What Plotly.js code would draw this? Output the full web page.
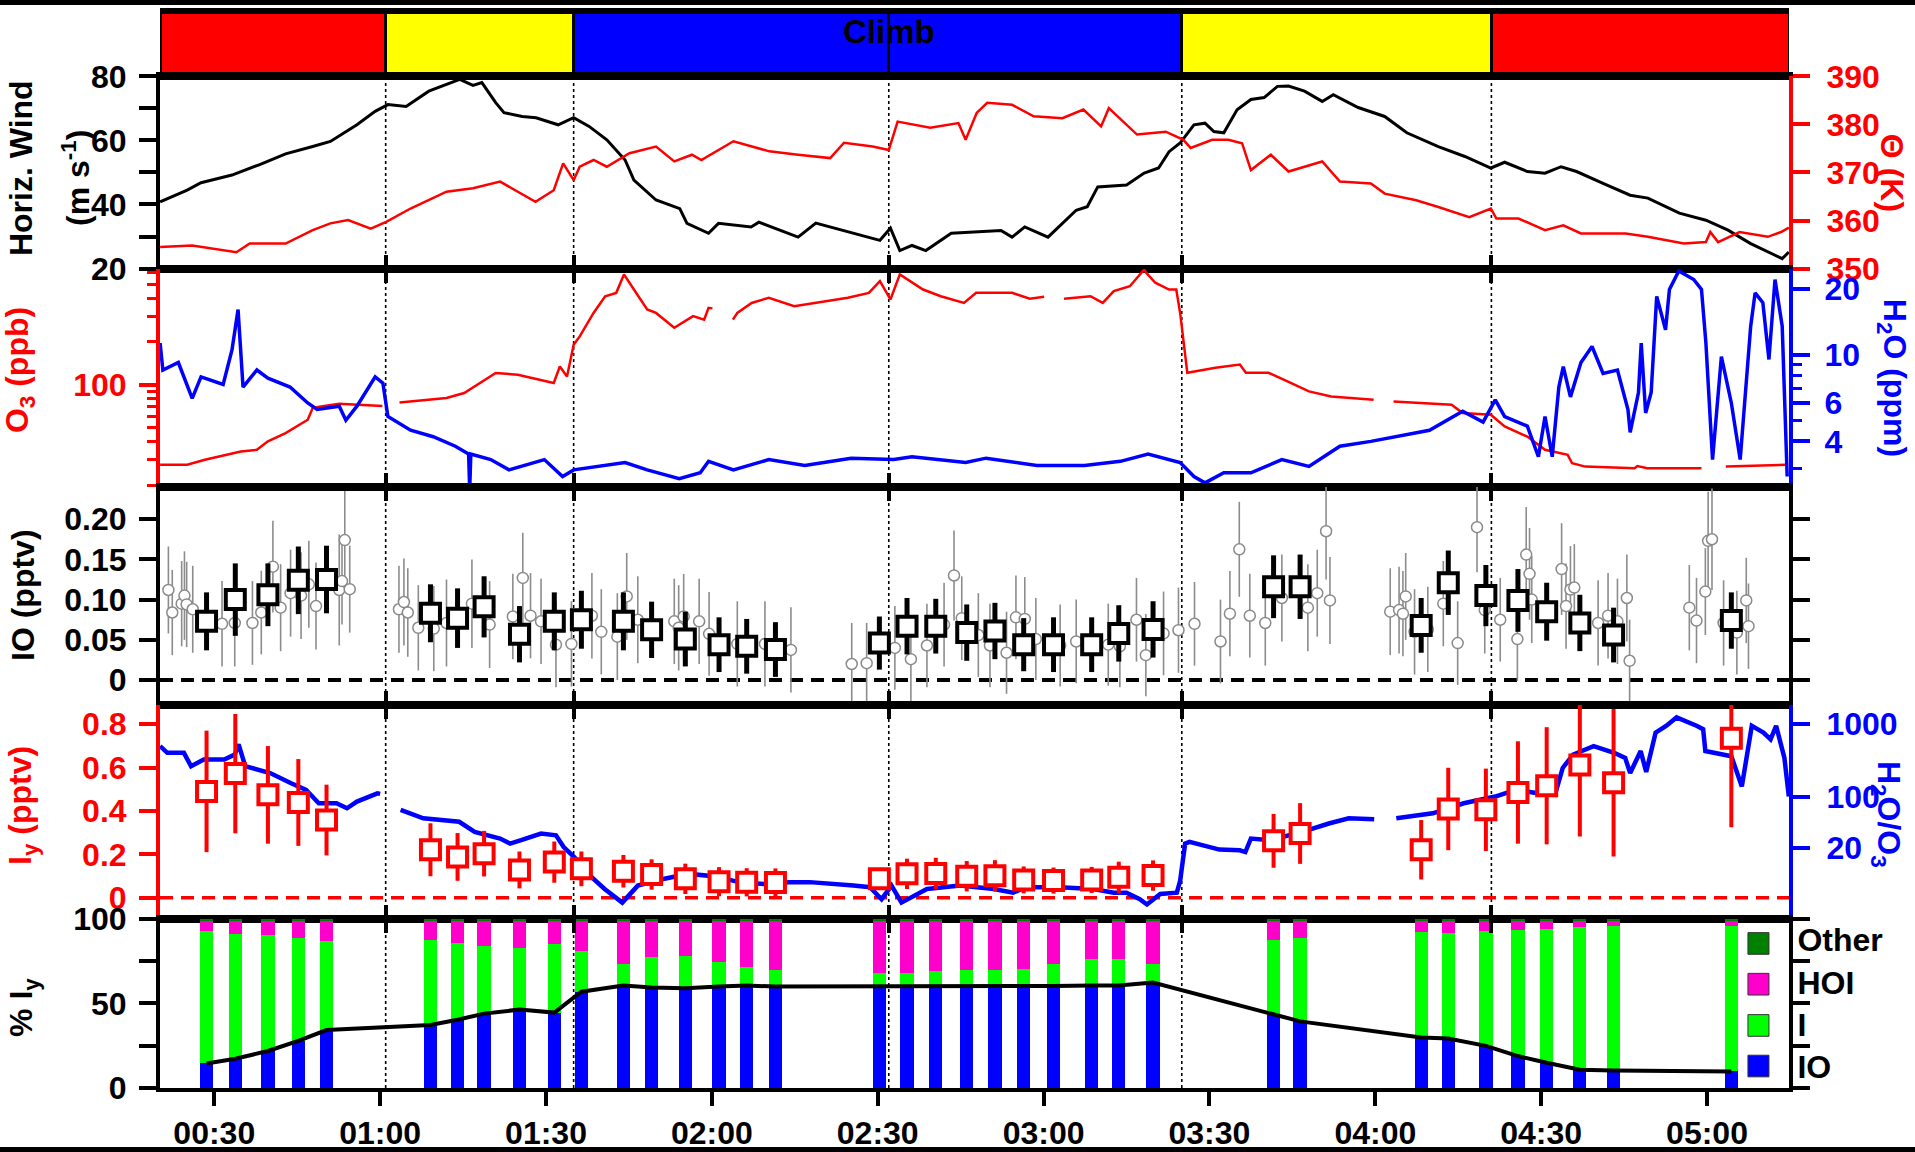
<!DOCTYPE html>
<html>
<head>
<meta charset="utf-8">
<script src="https://cdn.plot.ly/plotly-3.0.1.min.js"></script>
<style>
  html, body { margin: 0; padding: 0; background: #fff; overflow: hidden; }
  #chart { width: 1915px; height: 1152px; }
  .edge { position: absolute; left: 0; width: 1915px; background: #000; }
</style>
</head>
<body>
<div id="chart"></div>
<div class="edge" style="top:0;height:5px"></div>
<div class="edge" style="top:1147px;height:5px"></div>
<script>
// ---- time axis (minutes after 00:00 UTC) ----
const timeRange = [20.18, 314.83];
const timeTickVals = [30, 60, 90, 120, 150, 180, 210, 240, 270, 300];
const timeTickText = ['00:30', '01:00', '01:30', '02:00', '02:30', '03:00', '03:30', '04:00', '04:30', '05:00'];

// ---- flight phases ----
const phaseStart = [20.18, 61.0, 95.0, 152.0, 205.0, 261.0];
const phaseEnd   = [61.0, 95.0, 152.0, 205.0, 261.0, 314.83];
const phaseColor = ['#ff0000', '#ffff00', '#0000ff', '#0000ff', '#ffff00', '#ff0000'];
const phaseLabel = 'Climb';
const phaseLabelTime = 152.0;
const phaseMarks = [61.0, 95.0, 152.0, 205.0, 261.0];

// ---- horizontal wind (m/s) and potential temperature (K) ----
const windT = [20.2,25.1,27.6,33.2,38.1,42.9,47.8,51.0,55.8,59.1,61.4,64.7,68.8,72.0,74.4,76.8,78.4,80.9,82.4,85.7,88.2,92.2,95.0,97.8,101.0,104.3,105.9,109.9,112.4,114.2,115.5,119.4,121.2,127.1,128.5,135.6,138.8,144.6,150.4,152.3,154.0,156.2,158.7,163.3,167.8,172.3,174.3,176.6,180.8,183.4,185.9,187.9,189.8,195.0,198.2,200.8,202.7,204.7,207.2,209.2,210.8,212.6,215.0,217.5,219.9,222.3,224.3,227.2,230.4,232.4,236.9,241.7,245.7,251.4,256.2,260.9,263.4,267.5,270.7,273.6,276.4,281.2,286.1,289.3,295.0,299.8,303.8,307.9,311.2,313.6,314.8];
const windV = [40.8,44.5,46.8,49.2,52.4,55.8,58.1,59.7,64.9,69.1,71.2,70.6,75.4,77.5,79.1,77.2,78.1,71.8,68.7,67.5,67.1,64.9,67.1,64.4,60.2,53.9,47.6,41.4,39.8,38.7,34.1,31.0,34.1,33.0,34.5,29.8,34.2,31.4,28.8,32.6,25.6,27.2,25.6,31.0,31.4,31.9,29.8,33.0,29.8,34.1,38.2,39.3,45.5,46.1,49.8,51.4,56.5,59.2,64.9,65.4,62.8,62.4,69.6,72.8,73.4,76.9,77.0,75.4,72.2,74.3,70.3,67.5,62.4,58.1,55.0,51.4,53.2,50.3,49.8,51.8,50.3,46.6,42.9,42.0,37.3,35.1,32.0,27.8,25.1,23.1,25.1];
const thetaT = [20.2,26.0,34.0,36.4,42.9,47.8,51.0,54.2,58.3,61.1,65.5,72.0,76.8,81.7,88.1,91.4,93.1,95.0,96.1,98.6,101.0,105.1,109.9,113.2,116.4,118.1,123.9,130.4,135.6,141.4,143.9,149.1,152.0,153.6,159.5,164.6,165.9,167.9,169.8,174.3,178.2,183.4,187.2,190.4,191.8,196.9,202.1,205.3,206.6,210.5,213.4,215.9,217.5,221.1,224.3,230.4,233.6,239.2,241.7,247.4,251.4,257.0,260.9,261.9,265.9,270.7,274.0,277.2,285.3,289.3,295.8,299.8,300.6,302.0,305.9,311.0,313.4,314.8];
const thetaV = [354.5,354.8,353.4,355.2,355.2,358.0,359.4,360.1,358.3,359.7,362.5,366.0,366.7,368.1,363.9,366.3,371.9,368.4,371.2,372.6,371.2,374.0,375.4,372.3,373.7,372.6,376.5,374.4,373.7,373.0,376.2,375.4,374.7,380.6,379.3,380.3,376.8,382.4,384.5,384.1,381.7,381.3,383.1,379.6,383.4,377.9,378.5,376.8,375.1,376.8,376.8,376.1,370.5,373.7,370.2,372.3,368.1,367.7,365.6,364.2,362.8,360.7,362.5,360.4,360.4,358.0,359.0,357.3,357.3,356.6,355.2,355.5,357.6,355.5,357.6,356.6,357.6,358.5];

// ---- ozone (ppb) and water vapour (ppm); null marks missing data ----
const o3T = [20.2,25.1,28.3,34.8,37.7,39.7,42.9,46.9,47.8,49.3,52.6,59.9,60.4,62.0,63.5,72.0,75.2,80.9,84.9,91.4,92.5,93.8,95.0,96.1,98.6,100.7,102.7,104.1,105.9,108.3,109.9,113.2,116.6,118.6,119.4,120.1,122.0,123.8,124.6,127.2,130.3,134.9,138.8,144.6,148.4,150.4,152.3,154.0,158.2,161.4,165.6,167.8,174.3,177.5,180.1,182.0,183.7,188.5,190.7,192.7,195.6,198.2,198.6,200.2,202.7,204.0,204.7,206.0,211.1,215.5,216.6,220.7,224.7,228.0,232.0,239.7,241.5,243.3,253.8,255.8,260.9,263.4,267.5,270.7,274.8,275.6,278.0,286.9,287.4,289.2,299.0,301.0,303.4,314.3];
const o3V = [27.7,27.7,30.0,34.3,35.2,40.3,46.0,57.0,68.8,70.6,73.6,71.3,71.0,null,75.3,80.7,87.5,120.7,117.4,102.8,134,114,190,217,316,413,436,586,460,334,316,249,300,284,343,340,null,284,316,371,403,352,371,403,436,526,392,586,460,413,371,436,436,397,409,null,397,413,371,448,485,634,600,513,460,460,316,121,131,138,121,121,103,89.8,82.8,78.5,null,76.4,72.4,63.4,61.8,51.2,43.5,35.2,32.5,28.4,26.9,26.2,27.1,26.2,26.2,null,26.9,27.7];
const h2oT = [20.2,20.7,23.5,26.0,27.6,31.6,33.2,34.3,35.2,37.7,39.7,43.7,46.9,48.6,52.6,53.8,55.8,59.1,60.5,61.4,65.5,69.6,73.6,76.0,76.2,76.4,80.0,83.3,89.7,93.0,95.0,104.3,108.3,114.1,117.9,119.4,123.9,130.3,136.8,145.2,152.9,156.2,165.9,169.6,178.8,187.4,193.9,198.9,204.7,207.2,209.2,212.6,217.5,223.1,228.0,233.6,239.2,243.3,249.8,255.8,259.5,261.7,263.4,267.5,269.5,270.7,272.0,273.2,274.0,275.3,277.2,279.2,281.2,283.8,285.7,286.1,287.6,288.1,288.9,289.9,290.9,292.5,293.2,294.9,297.6,299.0,299.8,301.0,302.6,304.4,306.0,307.9,308.7,310.1,311.2,312.3,313.6,314.5];
const h2oV = [11.3,8.5,9.2,6.3,7.9,7.3,10.5,16.1,7.1,8.5,7.8,7.1,6.0,5.6,5.8,5.0,5.8,7.9,7.4,5.2,4.5,4.2,3.8,3.5,2.4,3.5,3.3,2.96,3.3,2.76,2.96,3.2,2.96,2.7,2.87,3.24,2.96,3.3,3.1,3.35,3.3,3.4,3.2,3.35,3.1,3.1,3.24,3.5,3.2,2.76,2.58,2.87,2.87,3.3,3.07,3.8,4.0,4.2,4.5,5.5,4.9,6.2,5.2,4.7,3.4,5.2,3.4,7.1,8.8,6.4,9.2,10.9,8.2,8.5,5.6,4.4,6.7,11.3,5.4,6.7,18.5,13,19.9,24.2,22.1,19.9,11.3,3.3,9.8,6.0,3.3,13.5,19.2,17.3,9.5,22.1,13.5,2.76];

// ---- IO (pptv): averaged values and individual retrievals ----
const avgT = [28.6,33.8,39.7,45.2,50.3,69.1,74.0,78.8,85.2,91.5,96.4,104.0,109.1,115.2,121.3,126.3,131.5,150.3,155.3,160.5,166.1,171.2,176.4,181.8,188.7,193.6,199.8,221.6,226.4,248.3,253.2,260.0,265.8,271.0,277.0,283.1,304.4];
const ioVal = [0.073,0.100,0.106,0.124,0.125,0.083,0.077,0.091,0.057,0.073,0.075,0.073,0.0625,0.051,0.044,0.042,0.038,0.046,0.067,0.067,0.059,0.061,0.044,0.044,0.044,0.058,0.063,0.116,0.116,0.068,0.121,0.105,0.099,0.085,0.071,0.056,0.074];
const ioErr = [0.036,0.045,0.039,0.042,0.042,0.036,0.037,0.038,0.035,0.036,0.036,0.036,0.035,0.034,0.034,0.034,0.034,0.033,0.035,0.034,0.035,0.035,0.033,0.034,0.034,0.035,0.035,0.039,0.040,0.034,0.040,0.038,0.039,0.036,0.035,0.034,0.035];
const ioSingleT = [21.7,22.4,24.1,24.6,25.0,26.1,31.4,33.7,36.9,38.5,40.6,42.0,43.8,45.7,47.1,48.4,52.6,53.1,53.6,54.5,
  63.4,64.3,65.0,66.9,69.7,72.0,76.6,79.8,84.0,85.8,87.2,89.1,91.8,94.6,98.3,100.0,102.9,104.6,106.6,113.2,114.0,114.9,117.7,119.5,124.6,129.6,134.3,
  145.3,148.0,153.1,156.0,158.9,162.0,163.8,165.2,168.2,170.3,173.3,175.0,176.6,178.6,183.0,185.9,191.7,193.8,196.8,198.5,201.7,204.4,
  207.3,212.0,213.7,215.4,217.3,220.1,223.1,227.8,229.5,231.1,231.8,
  242.7,244.3,245.0,245.5,247.1,249.5,252.3,254.9,258.4,259.8,262.6,265.7,267.3,267.9,268.3,273.7,274.5,275.3,276.0,280.3,282.1,283.8,285.5,286.0,
  296.8,298.1,299.7,300.2,300.9,303.0,305.4,307.1,307.5];
const ioSingleV = [0.112,0.084,0.095,0.105,0.094,0.088,0.070,0.071,0.071,0.084,0.141,0.090,0.108,0.105,0.119,0.092,0.112,0.123,0.174,0.113,
  0.088,0.097,0.084,0.065,0.064,0.071,0.095,0.069,0.079,0.127,0.080,0.073,0.044,0.045,0.080,0.060,0.054,0.104,0.075,0.073,0.065,0.079,0.073,0.0575,0.045,0.045,0.0375,
  0.020,0.021,0.040,0.026,0.043,0.069,0.130,0.077,0.056,0.043,0.034,0.078,0.076,0.051,0.043,0.048,0.044,0.042,0.075,0.031,0.058,0.062,
  0.070,0.048,0.0825,0.1625,0.080,0.071,0.102,0.090,0.108,0.185,0.099,
  0.085,0.087,0.0825,0.104,0.060,0.063,0.095,0.046,0.190,0.087,0.075,0.051,0.156,0.132,0.100,0.138,0.092,0.1125,0.115,0.071,0.080,0.073,0.102,0.024,
  0.090,0.074,0.110,0.173,0.175,0.071,0.059,0.099,0.067];
const ioSingleErr = [0.054,0.053,0.053,0.055,0.053,0.054,0.053,0.054,0.052,0.052,0.057,0.054,0.054,0.054,0.054,0.054,0.069,0.054,0.061,0.054,
  0.054,0.054,0.055,0.053,0.053,0.054,0.055,0.054,0.053,0.056,0.053,0.053,0.053,0.053,0.053,0.053,0.054,0.054,0.054,0.053,0.053,0.053,0.053,0.052,0.053,0.053,0.053,
  0.051,0.050,0.052,0.052,0.052,0.052,0.056,0.052,0.052,0.052,0.051,0.052,0.052,0.051,0.051,0.052,0.051,0.051,0.052,0.051,0.052,0.053,
  0.052,0.052,0.053,0.059,0.052,0.053,0.054,0.054,0.054,0.060,0.054,
  0.054,0.054,0.053,0.054,0.053,0.053,0.053,0.052,0.056,0.054,0.052,0.052,0.059,0.057,0.054,0.057,0.053,0.054,0.054,0.053,0.053,0.053,0.054,0.051,
  0.053,0.053,0.054,0.061,0.063,0.053,0.052,0.053,0.053];

// ---- total inorganic iodine Iy (pptv) and H2O/O3 ratio ----
const iyVal = [0.490,0.572,0.474,0.439,0.358,0.221,0.188,0.203,0.128,0.164,0.133,0.122,0.107,0.087,0.074,0.071,0.070,0.087,0.110,0.112,0.099,0.101,0.082,0.079,0.082,0.094,0.102,0.262,0.296,0.221,0.409,0.405,0.485,0.516,0.612,0.530,0.735];
const iyErr = [0.28,0.275,0.225,0.20,0.163,0.122,0.11,0.105,0.085,0.095,0.08,0.075,0.07,0.07,0.067,0.065,0.065,0.05,0.07,0.072,0.07,0.072,0.062,0.06,0.06,0.072,0.07,0.124,0.14,0.137,0.19,0.19,0.236,0.27,0.33,0.34,0.41];
const ratioT = [20.2,21.5,24.5,25.8,28.1,31.8,33.7,34.4,35.6,40.1,43.8,46.6,48.9,52.1,54.0,55.8,59.5,60.0,62.0,63.7,67.8,74.3,77.1,81.7,83.5,85.5,89.1,91.8,93.2,95.1,98.3,100.6,103.8,106.6,111.2,115.8,120.4,124.9,129.4,134.0,137.7,145.6,148.6,150.7,152.5,154.3,158.9,164.9,171.0,174.5,176.8,182.9,189.0,192.7,195.0,197.4,198.7,201.1,204.1,204.7,205.6,206.4,210.1,211.8,215.5,216.5,217.5,221.1,227.8,231.6,235.2,239.8,241.8,243.8,250.4,256.0,261.7,265.4,269.1,272.5,273.9,275.8,279.5,283.2,285.2,286.1,288.0,289.0,290.7,292.6,294.5,298.2,299.3,299.7,304.4,306.3,308.1,310.2,311.5,312.5,314.0,314.8];
const ratioV = [500,404,404,264,327,327,383,527,264,213,155,125,81.7,81.7,69.7,86,112,110,null,66,50.6,45.4,33,26.7,22.7,25.3,31.3,29.5,20.4,14.8,7.8,5.4,3.5,6.0,7.4,8.7,8.1,6.7,6.3,6.7,6.7,6.0,5.7,3.9,6.0,3.5,5.4,6.0,5.4,4.8,5.7,5.7,5.4,4.8,4.8,3.9,3.3,4.6,4.8,7.0,22.7,24,20.4,18.8,18.4,17.4,26.7,25.3,34.8,43,50.6,49,null,50.6,59.3,81.7,101,125,113,107,250,383,500,404,344,213,427,220,766,948,1240,948,853,427,363,139,948,766,619,948,344,101];

// ---- iodine partitioning (% of Iy) ----
const pctIO = [14.5,17.3,21.9,27.9,34.3,37.3,40.4,44.0,46.4,44.6,57.0,60.6,59.4,59.0,60.0,60.6,60.0,60.0,60.0,60.0,60.0,60.0,60.0,60.4,60.6,60.6,62.4,44.0,39.4,29.9,29.3,24.9,18.9,14.9,10.8,10.4,9.8];
const pctI = [78.1,73.9,68.7,61.1,52.7,50.5,45.3,40.1,36.7,40.3,24.1,12.9,18.1,18.9,14.7,11.1,10.1,7.9,7.9,9.5,10.1,10.1,10.5,13.1,15.9,15.5,11.1,43.8,49.2,62.3,62.5,67.7,74.3,79.3,84.4,85.4,85.8];
const pctHOI = [6.2,7.6,8.2,9.8,11.8,11.0,13.1,14.7,15.7,13.9,17.7,25.3,21.3,20.9,24.1,27.1,28.7,30.9,30.9,29.3,28.7,28.7,28.3,25.3,22.3,22.7,25.3,11.0,10.2,6.6,7.0,6.2,5.6,4.6,3.6,3.0,3.2];
const pctOther = [1.2,1.2,1.2,1.2,1.2,1.2,1.2,1.2,1.2,1.2,1.2,1.2,1.2,1.2,1.2,1.2,1.2,1.2,1.2,1.2,1.2,1.2,1.2,1.2,1.2,1.2,1.2,1.2,1.2,1.2,1.2,1.2,1.2,1.2,1.2,1.2,1.2];
const speciesNames = ['IO', 'I', 'HOI', 'Other'];
const speciesColors = ['#0000ff', '#00ff00', '#ff00cc', '#008000'];

// ---- styling ----
const FONT = 'Liberation Sans, Arial, Helvetica, sans-serif';
const RED = '#ff0000', BLUE = '#0000ff', BLACK = '#000000';
const LW = 4;             // frame / axis line width
const TICKLEN = 17;
const dom = {
  band: [0.9401, 1], p1: [0.7616, 0.9401], p2: [0.5586, 0.7616],
  p3: [0.3559, 0.5586], p4: [0.1571, 0.3559], p5: [0, 0.1571]
};

function timeAxis(anchor, extra) {
  return Object.assign({
    anchor: anchor, range: timeRange, domain: [0, 1],
    showline: true, linecolor: BLACK, linewidth: LW, mirror: 'ticks',
    ticks: 'inside', tickmode: 'array', tickvals: phaseMarks, ticklen: 14, tickwidth: LW, tickcolor: BLACK,
    showticklabels: false, showgrid: false, zeroline: false, fixedrange: true
  }, extra || {});
}
function valueAxis(extra) {
  return Object.assign({
    showline: true, linewidth: LW, linecolor: BLACK, ticks: 'outside', ticklen: TICKLEN, tickwidth: LW,
    tickcolor: BLACK, tickmode: 'array', showgrid: false, zeroline: false, fixedrange: true,
    ticklabelstandoff: 6, tickfont: {family: FONT, size: 32, color: BLACK, weight: 'bold'}
  }, extra || {});
}
function colorFont(c) { return {family: FONT, size: 32, color: c, weight: 'bold'}; }

const traces = [];

// flight phase band
traces.push({
  type: 'bar', orientation: 'h', xaxis: 'x', yaxis: 'y',
  y: phaseStart.map(() => 0), base: phaseStart,
  x: phaseStart.map((s, i) => phaseEnd[i] - s),
  width: 1, marker: {color: phaseColor, line: {color: BLACK, width: 3}}
});

// panel 1
traces.push({type: 'scatter', mode: 'lines', xaxis: 'x2', yaxis: 'y2', x: windT, y: windV, line: {color: BLACK, width: 3}});
traces.push({type: 'scatter', mode: 'lines', xaxis: 'x2', yaxis: 'y3', x: thetaT, y: thetaV, line: {color: RED, width: 2.5}});

// panel 2
traces.push({type: 'scatter', mode: 'lines', xaxis: 'x3', yaxis: 'y4', x: o3T, y: o3V, connectgaps: false, line: {color: RED, width: 2.5}});
traces.push({type: 'scatter', mode: 'lines', xaxis: 'x3', yaxis: 'y5', x: h2oT, y: h2oV, line: {color: BLUE, width: 3.5}});

// panel 3
traces.push({
  type: 'scatter', mode: 'markers', xaxis: 'x4', yaxis: 'y6', x: ioSingleT, y: ioSingleV,
  marker: {symbol: 'circle', size: 11, color: '#ffffff', line: {color: '#8a8a8a', width: 1.5}},
  error_y: {type: 'data', array: ioSingleErr, visible: true, color: '#8c8c8c', thickness: 1.6, width: 0}
});
traces.push({
  type: 'scatter', mode: 'markers', xaxis: 'x4', yaxis: 'y6', x: avgT, y: ioVal,
  marker: {symbol: 'square', size: 19, color: '#ffffff', line: {color: BLACK, width: 4}},
  error_y: {type: 'data', array: ioErr, visible: true, color: BLACK, thickness: 5, width: 0}
});

// panel 4
traces.push({type: 'scatter', mode: 'lines', xaxis: 'x5', yaxis: 'y7', x: ratioT, y: ratioV, connectgaps: false, line: {color: BLUE, width: 4.5}});
traces.push({
  type: 'scatter', mode: 'markers', xaxis: 'x5', yaxis: 'y8', x: avgT, y: iyVal,
  marker: {symbol: 'square', size: 19, color: '#ffffff', line: {color: RED, width: 4}},
  error_y: {type: 'data', array: iyErr, visible: true, color: RED, thickness: 4, width: 0}
});

// panel 5
[pctIO, pctI, pctHOI, pctOther].forEach((vals, i) => {
  traces.push({
    type: 'bar', xaxis: 'x6', yaxis: 'y9', x: avgT, y: vals, width: 2.4,
    name: speciesNames[i], marker: {color: speciesColors[i], line: {width: 0}}
  });
});
traces.push({type: 'scatter', mode: 'lines', xaxis: 'x6', yaxis: 'y9', x: avgT, y: pctIO, line: {color: BLACK, width: 4}});
// empty traces so the overlay axes of panel 5 are laid out
traces.push({type: 'scatter', mode: 'markers', xaxis: 'x7', yaxis: 'y9', x: [], y: []});
traces.push({type: 'scatter', mode: 'markers', xaxis: 'x6', yaxis: 'y10', x: [], y: []});

// dotted phase markers through all panels
const shapes = phaseMarks.map(t => ({
  type: 'line', xref: 'x2', yref: 'paper', x0: t, x1: t, y0: 0, y1: dom.band[0],
  line: {color: BLACK, width: 1.6, dash: 'dot'}, layer: 'below'
}));
// zero reference lines
shapes.push({type: 'line', xref: 'x4 domain', yref: 'y6', x0: 0, x1: 1, y0: 0, y1: 0, line: {color: BLACK, width: 4, dash: '13px,8px'}, layer: 'below'});
shapes.push({type: 'line', xref: 'x5 domain', yref: 'y8', x0: 0, x1: 1, y0: 0, y1: 0, line: {color: RED, width: 3.5, dash: '13px,8px'}, layer: 'below'});
// legend swatches for the partitioning bars
const swatchCenter = [13, 37, 61.4, 85.5];
swatchCenter.forEach((c, i) => {
  shapes.push({type: 'rect', xref: 'paper', yref: 'y9', x0: 0.9748, x1: 0.9877, y0: c - 6.4, y1: c + 6.4,
    fillcolor: speciesColors[i], line: {color: '#333', width: 1}});
});

function title(text, x, y, angle, color) {
  return {text: text, xref: 'paper', yref: 'paper', x: x, y: y, textangle: angle,
    xanchor: 'center', yanchor: 'middle', showarrow: false,
    font: {family: FONT, size: 32, color: color, weight: 'bold'}};
}
const annotations = [
  {text: phaseLabel, xref: 'x', yref: 'y', x: phaseLabelTime, y: 0.19, showarrow: false,
   xanchor: 'center', yanchor: 'middle', font: {family: FONT, size: 33, color: BLACK, weight: 'bold'}},
  title('Horiz. Wind', -0.0853, 0.855, -90, BLACK),
  title('(m s<sup>-1</sup>)', -0.0516, 0.8457, -90, BLACK),
  title('\u0398 (K)', 1.0633, 0.8504, 90, RED),
  title('O<sub>3</sub> (ppb)', -0.0859, 0.6673, -90, RED),
  title('H<sub>2</sub>O (ppm)', 1.0633, 0.6599, 90, BLUE),
  title('IO (pptv)', -0.0841, 0.4582, -90, BLACK),
  title('I<sub>y</sub> (pptv)', -0.0841, 0.2621, -90, RED),
  title('H<sub>2</sub>O/O<sub>3</sub>', 1.0602, 0.2546, 90, BLUE),
  title('% I<sub>y</sub>', -0.0835, 0.0753, -90, BLACK)
];

const layout = {
  width: 1915, height: 1152,
  margin: {l: 160, r: 126, t: 12, b: 64, pad: 0},
  paper_bgcolor: '#ffffff', plot_bgcolor: 'rgba(0,0,0,0)',
  font: {family: FONT, size: 32, color: BLACK, weight: 'bold'},
  showlegend: false, barmode: 'stack', bargap: 0,
  xaxis: timeAxis('y', {ticks: '', mirror: true}),
  yaxis: {domain: dom.band, anchor: 'x', range: [-0.5, 0.5], showticklabels: false, ticks: '',
          showgrid: false, zeroline: false, showline: false, fixedrange: true},
  xaxis2: timeAxis('y2', {mirror: true}),
  yaxis2: valueAxis({domain: dom.p1, anchor: 'x2', side: 'left', range: [20, 80],
    tickvals: [20, 30, 40, 50, 60, 70, 80], ticktext: ['20', '', '40', '', '60', '', '80']}),
  yaxis3: valueAxis({overlaying: 'y2', anchor: 'x2', side: 'right', range: [350, 390],
    linecolor: RED, tickcolor: RED, tickfont: colorFont(RED), ticklabelstandoff: 10,
    tickvals: [350, 360, 370, 380, 390], ticktext: ['350', '360', '370', '380', '390']}),
  xaxis3: timeAxis('y4'),
  yaxis4: valueAxis({domain: dom.p2, anchor: 'x3', side: 'left', type: 'log', range: [1.288, 2.809],
    linecolor: RED, tickcolor: RED, tickfont: colorFont(RED),
    tickvals: [100], ticktext: ['100'],
    minor: {tickmode: 'array', tickvals: [20, 30, 40, 50, 60, 70, 80, 90, 200, 300, 400, 500, 600],
            ticks: 'outside', ticklen: 9, tickwidth: 3, tickcolor: RED, showgrid: false}}),
  yaxis5: valueAxis({overlaying: 'y4', anchor: 'x3', side: 'right', type: 'log', range: [0.393, 1.395],
    linecolor: BLUE, tickcolor: BLUE, tickfont: colorFont(BLUE), ticklabelstandoff: 8,
    tickvals: [4, 6, 10, 20], ticktext: ['4', '6', '10', '20'],
    minor: {tickmode: 'array', tickvals: [3, 5, 7, 8, 9], ticks: 'outside', ticklen: 9, tickwidth: 3,
            tickcolor: BLUE, showgrid: false}}),
  xaxis4: timeAxis('y6'),
  yaxis6: valueAxis({domain: dom.p3, anchor: 'x4', side: 'left', range: [-0.031, 0.24], mirror: 'ticks',
    tickvals: [0, 0.05, 0.1, 0.15, 0.2], ticktext: ['0', '0.05', '0.10', '0.15', '0.20']}),
  xaxis5: timeAxis('y7'),
  yaxis7: valueAxis({domain: dom.p4, anchor: 'x5', side: 'right', type: 'log', range: [0.319, 3.264],
    linecolor: BLUE, tickcolor: BLUE, tickfont: colorFont(BLUE), ticklabelstandoff: 10,
    tickvals: [20, 100, 1000], ticktext: ['20', '100', '1000']}),
  yaxis8: valueAxis({overlaying: 'y7', anchor: 'x5', side: 'left', range: [-0.098, 0.888],
    linecolor: RED, tickcolor: RED, tickfont: colorFont(RED),
    tickvals: [0, 0.2, 0.4, 0.6, 0.8], ticktext: ['0', '0.2', '0.4', '0.6', '0.8']}),
  xaxis6: timeAxis('y9', {mirror: true, ticks: 'outside', tickvals: timeTickVals, ticktext: timeTickText,
    showticklabels: true, ticklen: 14, ticklabelstandoff: 0,
    tickfont: {family: FONT, size: 32, color: BLACK, weight: 'bold'}}),
  xaxis7: timeAxis('y9', {overlaying: 'x6', side: 'top', showline: false, mirror: false}),
  yaxis9: valueAxis({domain: dom.p5, anchor: 'x6', side: 'left', range: [0, 100], mirror: 'ticks',
    tickvals: [0, 25, 50, 75, 100], ticktext: ['0', '', '50', '', '100']}),
  yaxis10: valueAxis({overlaying: 'y9', anchor: 'x6', side: 'right', range: [0, 100], showline: false,
    ticklen: 1, tickcolor: 'rgba(0,0,0,0)', ticklabelstandoff: 0,
    tickvals: [12.5, 37.5, 62.5, 87.5], ticktext: speciesNames}),
  shapes: shapes,
  annotations: annotations
};

Plotly.newPlot('chart', traces, layout, {staticPlot: true, displayModeBar: false});
</script>
</body>
</html>
